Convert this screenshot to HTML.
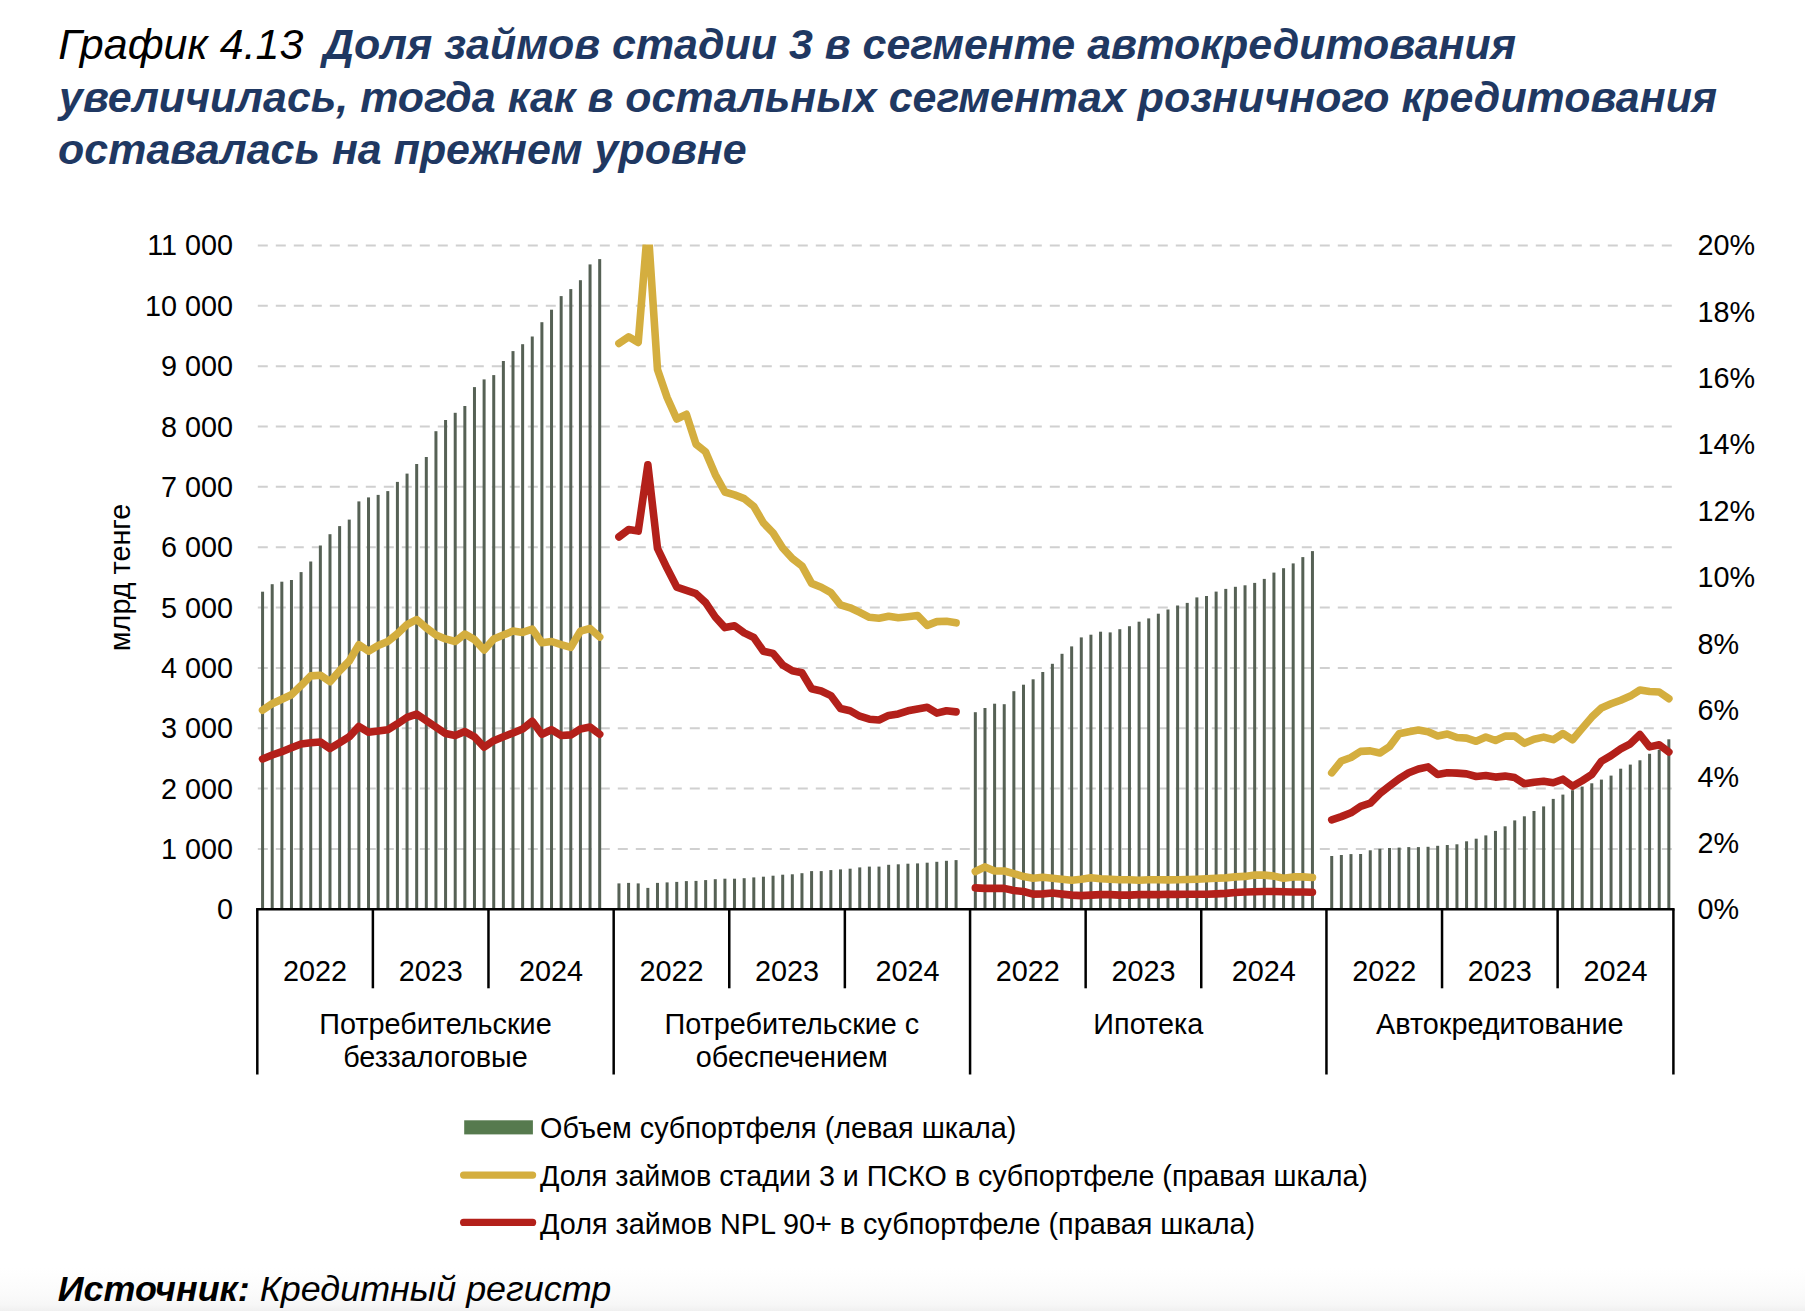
<!DOCTYPE html><html><head><meta charset="utf-8"><title>График 4.13</title><style>html,body{margin:0;padding:0;background:#fff}svg{display:block}</style></head><body>
<svg width="1805" height="1311" viewBox="0 0 1805 1311">
<defs><linearGradient id="bg" x1="0" y1="0" x2="0" y2="1"><stop offset="0" stop-color="#ffffff"/><stop offset="0.55" stop-color="#fbfbfb"/><stop offset="0.85" stop-color="#f7f7f7"/><stop offset="1" stop-color="#f0f0f0"/></linearGradient>
<clipPath id="pc"><rect x="252.3" y="244.6" width="1425.7" height="684.7"/></clipPath></defs>
<rect x="0" y="0" width="1805" height="1311" fill="#fff"/>
<rect x="0" y="1268" width="1805" height="43" fill="url(#bg)"/>
<text x="58.3" y="58.6" font-family="'Liberation Sans', Arial, sans-serif" font-size="43" font-style="italic" fill="#000">График 4.13</text>
<text font-family="'Liberation Sans', Arial, sans-serif" font-size="42.95" font-style="italic" font-weight="bold" fill="#1f3862">
<tspan x="323" y="58.6">Доля займов стадии 3 в сегменте автокредитования</tspan>
<tspan x="59" y="111.5">увеличилась, тогда как в остальных сегментах розничного кредитования</tspan>
<tspan x="58.1" y="164.3">оставалась на прежнем уровне</tspan></text>
<line x1="257.8" y1="848.95" x2="1673.0" y2="848.95" stroke="#d0d0d0" stroke-width="2" stroke-dasharray="10 8"/>
<line x1="257.8" y1="788.60" x2="1673.0" y2="788.60" stroke="#d0d0d0" stroke-width="2" stroke-dasharray="10 8"/>
<line x1="257.8" y1="728.25" x2="1673.0" y2="728.25" stroke="#d0d0d0" stroke-width="2" stroke-dasharray="10 8"/>
<line x1="257.8" y1="667.90" x2="1673.0" y2="667.90" stroke="#d0d0d0" stroke-width="2" stroke-dasharray="10 8"/>
<line x1="257.8" y1="607.55" x2="1673.0" y2="607.55" stroke="#d0d0d0" stroke-width="2" stroke-dasharray="10 8"/>
<line x1="257.8" y1="547.20" x2="1673.0" y2="547.20" stroke="#d0d0d0" stroke-width="2" stroke-dasharray="10 8"/>
<line x1="257.8" y1="486.85" x2="1673.0" y2="486.85" stroke="#d0d0d0" stroke-width="2" stroke-dasharray="10 8"/>
<line x1="257.8" y1="426.50" x2="1673.0" y2="426.50" stroke="#d0d0d0" stroke-width="2" stroke-dasharray="10 8"/>
<line x1="257.8" y1="366.15" x2="1673.0" y2="366.15" stroke="#d0d0d0" stroke-width="2" stroke-dasharray="10 8"/>
<line x1="257.8" y1="305.80" x2="1673.0" y2="305.80" stroke="#d0d0d0" stroke-width="2" stroke-dasharray="10 8"/>
<line x1="257.8" y1="245.45" x2="1673.0" y2="245.45" stroke="#d0d0d0" stroke-width="2" stroke-dasharray="10 8"/>
<g fill="#566155">
<rect x="261.07" y="591.7" width="3.0" height="317.6"/>
<rect x="270.70" y="584.2" width="3.0" height="325.1"/>
<rect x="280.33" y="581.7" width="3.0" height="327.6"/>
<rect x="289.96" y="580.0" width="3.0" height="329.3"/>
<rect x="299.59" y="572.1" width="3.0" height="337.2"/>
<rect x="309.23" y="561.5" width="3.0" height="347.8"/>
<rect x="318.86" y="545.5" width="3.0" height="363.8"/>
<rect x="328.49" y="534.2" width="3.0" height="375.1"/>
<rect x="338.12" y="526.1" width="3.0" height="383.2"/>
<rect x="347.75" y="519.6" width="3.0" height="389.7"/>
<rect x="357.39" y="501.4" width="3.0" height="407.9"/>
<rect x="367.02" y="497.4" width="3.0" height="411.9"/>
<rect x="376.65" y="494.9" width="3.0" height="414.4"/>
<rect x="386.28" y="491.1" width="3.0" height="418.2"/>
<rect x="395.91" y="481.9" width="3.0" height="427.4"/>
<rect x="405.55" y="473.6" width="3.0" height="435.7"/>
<rect x="415.18" y="464.0" width="3.0" height="445.3"/>
<rect x="424.81" y="457.0" width="3.0" height="452.3"/>
<rect x="434.44" y="431.2" width="3.0" height="478.1"/>
<rect x="444.07" y="420.0" width="3.0" height="489.3"/>
<rect x="453.71" y="412.8" width="3.0" height="496.5"/>
<rect x="463.34" y="406.0" width="3.0" height="503.3"/>
<rect x="472.97" y="387.1" width="3.0" height="522.2"/>
<rect x="482.60" y="379.4" width="3.0" height="529.9"/>
<rect x="492.23" y="375.1" width="3.0" height="534.2"/>
<rect x="501.87" y="361.0" width="3.0" height="548.3"/>
<rect x="511.50" y="351.1" width="3.0" height="558.2"/>
<rect x="521.13" y="344.2" width="3.0" height="565.1"/>
<rect x="530.76" y="336.5" width="3.0" height="572.8"/>
<rect x="540.39" y="322.2" width="3.0" height="587.1"/>
<rect x="550.03" y="309.7" width="3.0" height="599.6"/>
<rect x="559.66" y="296.1" width="3.0" height="613.2"/>
<rect x="569.29" y="289.1" width="3.0" height="620.2"/>
<rect x="578.92" y="280.2" width="3.0" height="629.1"/>
<rect x="588.55" y="264.4" width="3.0" height="644.9"/>
<rect x="598.19" y="259.1" width="3.0" height="650.2"/>
<rect x="617.45" y="883.4" width="3.0" height="25.9"/>
<rect x="627.08" y="882.9" width="3.0" height="26.4"/>
<rect x="636.71" y="883.4" width="3.0" height="25.9"/>
<rect x="646.35" y="887.9" width="3.0" height="21.4"/>
<rect x="655.98" y="882.9" width="3.0" height="26.4"/>
<rect x="665.61" y="882.4" width="3.0" height="26.9"/>
<rect x="675.24" y="881.9" width="3.0" height="27.4"/>
<rect x="684.87" y="881.1" width="3.0" height="28.2"/>
<rect x="694.51" y="880.9" width="3.0" height="28.4"/>
<rect x="704.14" y="880.1" width="3.0" height="29.2"/>
<rect x="713.77" y="879.2" width="3.0" height="30.1"/>
<rect x="723.40" y="878.7" width="3.0" height="30.6"/>
<rect x="733.03" y="878.7" width="3.0" height="30.6"/>
<rect x="742.67" y="878.2" width="3.0" height="31.1"/>
<rect x="752.30" y="877.4" width="3.0" height="31.9"/>
<rect x="761.93" y="876.7" width="3.0" height="32.6"/>
<rect x="771.56" y="875.7" width="3.0" height="33.6"/>
<rect x="781.19" y="874.7" width="3.0" height="34.6"/>
<rect x="790.83" y="874.3" width="3.0" height="35.0"/>
<rect x="800.46" y="873.2" width="3.0" height="36.1"/>
<rect x="810.09" y="871.1" width="3.0" height="38.2"/>
<rect x="819.72" y="871.1" width="3.0" height="38.2"/>
<rect x="829.35" y="870.1" width="3.0" height="39.2"/>
<rect x="838.99" y="869.4" width="3.0" height="39.9"/>
<rect x="848.62" y="868.7" width="3.0" height="40.6"/>
<rect x="858.25" y="867.4" width="3.0" height="41.9"/>
<rect x="867.88" y="866.6" width="3.0" height="42.7"/>
<rect x="877.51" y="866.6" width="3.0" height="42.7"/>
<rect x="887.15" y="864.8" width="3.0" height="44.5"/>
<rect x="896.78" y="864.3" width="3.0" height="45.0"/>
<rect x="906.41" y="863.7" width="3.0" height="45.6"/>
<rect x="916.04" y="863.4" width="3.0" height="45.9"/>
<rect x="925.67" y="862.7" width="3.0" height="46.6"/>
<rect x="935.31" y="861.8" width="3.0" height="47.5"/>
<rect x="944.94" y="860.8" width="3.0" height="48.5"/>
<rect x="954.57" y="860.1" width="3.0" height="49.2"/>
<rect x="973.83" y="712.2" width="3.0" height="197.1"/>
<rect x="983.47" y="708.0" width="3.0" height="201.3"/>
<rect x="993.10" y="703.7" width="3.0" height="205.6"/>
<rect x="1002.73" y="704.2" width="3.0" height="205.1"/>
<rect x="1012.36" y="691.2" width="3.0" height="218.1"/>
<rect x="1021.99" y="684.7" width="3.0" height="224.6"/>
<rect x="1031.63" y="679.3" width="3.0" height="230.0"/>
<rect x="1041.26" y="672.0" width="3.0" height="237.3"/>
<rect x="1050.89" y="663.8" width="3.0" height="245.5"/>
<rect x="1060.52" y="653.8" width="3.0" height="255.5"/>
<rect x="1070.15" y="646.4" width="3.0" height="262.9"/>
<rect x="1079.79" y="637.4" width="3.0" height="271.9"/>
<rect x="1089.42" y="634.7" width="3.0" height="274.6"/>
<rect x="1099.05" y="631.7" width="3.0" height="277.6"/>
<rect x="1108.68" y="632.4" width="3.0" height="276.9"/>
<rect x="1118.31" y="629.2" width="3.0" height="280.1"/>
<rect x="1127.95" y="626.2" width="3.0" height="283.1"/>
<rect x="1137.58" y="621.7" width="3.0" height="287.6"/>
<rect x="1147.21" y="618.4" width="3.0" height="290.9"/>
<rect x="1156.84" y="613.7" width="3.0" height="295.6"/>
<rect x="1166.47" y="609.5" width="3.0" height="299.8"/>
<rect x="1176.11" y="605.5" width="3.0" height="303.8"/>
<rect x="1185.74" y="602.9" width="3.0" height="306.4"/>
<rect x="1195.37" y="597.4" width="3.0" height="311.9"/>
<rect x="1205.00" y="596.0" width="3.0" height="313.3"/>
<rect x="1214.63" y="591.6" width="3.0" height="317.7"/>
<rect x="1224.27" y="588.9" width="3.0" height="320.4"/>
<rect x="1233.90" y="586.8" width="3.0" height="322.5"/>
<rect x="1243.53" y="585.3" width="3.0" height="324.0"/>
<rect x="1253.16" y="582.9" width="3.0" height="326.4"/>
<rect x="1262.79" y="578.9" width="3.0" height="330.4"/>
<rect x="1272.43" y="572.6" width="3.0" height="336.7"/>
<rect x="1282.06" y="568.2" width="3.0" height="341.1"/>
<rect x="1291.69" y="563.4" width="3.0" height="345.9"/>
<rect x="1301.32" y="557.1" width="3.0" height="352.2"/>
<rect x="1310.95" y="551.1" width="3.0" height="358.2"/>
<rect x="1330.22" y="856.0" width="3.0" height="53.3"/>
<rect x="1339.85" y="855.0" width="3.0" height="54.3"/>
<rect x="1349.48" y="854.1" width="3.0" height="55.2"/>
<rect x="1359.11" y="854.0" width="3.0" height="55.3"/>
<rect x="1368.75" y="850.3" width="3.0" height="59.0"/>
<rect x="1378.38" y="848.8" width="3.0" height="60.5"/>
<rect x="1388.01" y="848.0" width="3.0" height="61.3"/>
<rect x="1397.64" y="847.6" width="3.0" height="61.7"/>
<rect x="1407.27" y="847.1" width="3.0" height="62.2"/>
<rect x="1416.91" y="847.1" width="3.0" height="62.2"/>
<rect x="1426.54" y="846.8" width="3.0" height="62.5"/>
<rect x="1436.17" y="845.8" width="3.0" height="63.5"/>
<rect x="1445.80" y="845.0" width="3.0" height="64.3"/>
<rect x="1455.43" y="844.3" width="3.0" height="65.0"/>
<rect x="1465.07" y="841.3" width="3.0" height="68.0"/>
<rect x="1474.70" y="838.7" width="3.0" height="70.6"/>
<rect x="1484.33" y="835.4" width="3.0" height="73.9"/>
<rect x="1493.96" y="830.9" width="3.0" height="78.4"/>
<rect x="1503.59" y="826.3" width="3.0" height="83.0"/>
<rect x="1513.23" y="820.4" width="3.0" height="88.9"/>
<rect x="1522.86" y="816.3" width="3.0" height="93.0"/>
<rect x="1532.49" y="811.0" width="3.0" height="98.3"/>
<rect x="1542.12" y="806.4" width="3.0" height="102.9"/>
<rect x="1551.75" y="798.9" width="3.0" height="110.4"/>
<rect x="1561.39" y="794.6" width="3.0" height="114.7"/>
<rect x="1571.02" y="790.2" width="3.0" height="119.1"/>
<rect x="1580.65" y="786.6" width="3.0" height="122.7"/>
<rect x="1590.28" y="783.3" width="3.0" height="126.0"/>
<rect x="1599.91" y="779.6" width="3.0" height="129.7"/>
<rect x="1609.55" y="775.6" width="3.0" height="133.7"/>
<rect x="1619.18" y="768.7" width="3.0" height="140.6"/>
<rect x="1628.81" y="764.6" width="3.0" height="144.7"/>
<rect x="1638.44" y="760.3" width="3.0" height="149.0"/>
<rect x="1648.07" y="753.8" width="3.0" height="155.5"/>
<rect x="1657.71" y="749.7" width="3.0" height="159.6"/>
<rect x="1667.34" y="739.3" width="3.0" height="170.0"/>
</g>
<g clip-path="url(#pc)">
<polyline points="262.57,710.2 272.20,703.7 281.83,699.2 291.46,694.7 301.09,685.6 310.73,675.9 320.36,675.2 329.99,681.7 339.62,670.7 349.25,661.0 358.89,644.7 368.52,651.2 378.15,645.4 387.78,641.5 397.41,633.7 407.05,624.6 416.68,619.5 426.31,627.9 435.94,635.0 445.57,638.9 455.21,641.5 464.84,634.0 474.47,639.6 484.10,649.9 493.73,638.9 503.37,635.0 513.00,631.1 522.63,632.4 532.26,629.2 541.89,642.8 551.53,641.5 561.16,644.7 570.79,647.3 580.42,631.1 590.05,628.5 599.69,637.0" fill="none" stroke="#d4ae3f" stroke-width="7.6" stroke-linejoin="round" stroke-linecap="round"/>
<polyline points="618.95,343.4 628.58,336.8 638.21,342.4 647.85,225.0 657.48,369.5 667.11,397.5 676.74,419.0 686.37,414.3 696.01,444.2 705.64,451.9 715.27,474.6 724.90,492.0 734.53,494.9 744.17,498.6 753.80,506.4 763.43,522.9 773.06,532.9 782.69,548.0 792.33,558.5 801.96,565.9 811.59,583.4 821.22,587.2 830.85,592.6 840.49,604.8 850.12,607.8 859.75,612.4 869.38,617.3 879.01,618.2 888.65,616.2 898.28,617.7 907.91,616.7 917.54,615.5 927.17,625.4 936.81,621.6 946.44,621.3 956.07,622.8" fill="none" stroke="#d4ae3f" stroke-width="7.6" stroke-linejoin="round" stroke-linecap="round"/>
<polyline points="975.33,871.5 984.97,866.9 994.60,871.0 1004.23,871.0 1013.86,873.6 1023.49,876.6 1033.13,878.2 1042.76,877.2 1052.39,878.2 1062.02,879.2 1071.65,880.2 1081.29,879.2 1090.92,877.7 1100.55,878.7 1110.18,879.2 1119.81,879.7 1129.45,879.7 1139.08,880.2 1148.71,879.7 1158.34,879.7 1167.97,879.9 1177.61,879.7 1187.24,879.5 1196.87,879.2 1206.50,878.7 1216.13,878.2 1225.77,877.9 1235.40,876.9 1245.03,876.4 1254.66,875.1 1264.29,875.1 1273.93,876.1 1283.56,878.2 1293.19,876.9 1302.82,876.9 1312.45,877.5" fill="none" stroke="#d4ae3f" stroke-width="7.6" stroke-linejoin="round" stroke-linecap="round"/>
<polyline points="1331.72,772.8 1341.35,761.0 1350.98,757.5 1360.61,751.4 1370.25,750.9 1379.88,753.0 1389.51,746.6 1399.14,733.8 1408.77,731.7 1418.41,730.1 1428.04,731.7 1437.67,735.9 1447.30,734.0 1456.93,737.5 1466.57,738.1 1476.20,741.3 1485.83,737.0 1495.46,740.5 1505.09,736.1 1514.73,736.1 1524.36,743.3 1533.99,739.2 1543.62,737.1 1553.25,739.7 1562.89,733.5 1572.52,739.7 1582.15,728.4 1591.78,717.1 1601.41,707.9 1611.05,703.8 1620.68,700.2 1630.31,696.1 1639.94,690.0 1649.57,691.5 1659.21,692.0 1668.84,698.7" fill="none" stroke="#d4ae3f" stroke-width="7.6" stroke-linejoin="round" stroke-linecap="round"/>
<polyline points="262.57,758.9 272.20,755.0 281.83,751.7 291.46,747.8 301.09,744.0 310.73,742.7 320.36,742.0 329.99,748.5 339.62,742.7 349.25,736.8 358.89,726.4 368.52,732.3 378.15,731.0 387.78,729.7 397.41,723.8 407.05,717.4 416.68,714.1 426.31,720.6 435.94,727.1 445.57,733.6 455.21,735.5 464.84,731.6 474.47,736.8 484.10,747.2 493.73,740.7 503.37,736.8 513.00,732.9 522.63,729.0 532.26,721.3 541.89,734.2 551.53,729.7 561.16,735.5 570.79,734.9 580.42,729.0 590.05,727.1 599.69,734.2" fill="none" stroke="#b3201a" stroke-width="7.6" stroke-linejoin="round" stroke-linecap="round"/>
<polyline points="618.95,536.9 628.58,529.6 638.21,531.1 647.85,464.8 657.48,548.4 667.11,568.3 676.74,587.1 686.37,590.4 696.01,593.7 705.64,602.6 715.27,617.0 724.90,627.6 734.53,625.8 744.17,632.9 753.80,637.5 763.43,651.2 773.06,653.4 782.69,665.0 792.33,670.7 801.96,672.7 811.59,688.7 821.22,691.0 830.85,695.6 840.49,708.5 850.12,710.8 859.75,716.2 869.38,719.2 879.01,720.0 888.65,715.4 898.28,713.9 907.91,710.8 917.54,708.9 927.17,707.3 936.81,713.1 946.44,710.8 956.07,711.9" fill="none" stroke="#b3201a" stroke-width="7.6" stroke-linejoin="round" stroke-linecap="round"/>
<polyline points="975.33,887.9 984.97,888.4 994.60,888.4 1004.23,888.4 1013.86,890.5 1023.49,891.5 1033.13,894.1 1042.76,893.9 1052.39,893.0 1062.02,894.1 1071.65,895.1 1081.29,895.6 1090.92,895.1 1100.55,894.6 1110.18,894.6 1119.81,895.1 1129.45,895.1 1139.08,894.6 1148.71,894.6 1158.34,894.6 1167.97,894.3 1177.61,894.4 1187.24,894.3 1196.87,894.3 1206.50,894.3 1216.13,893.9 1225.77,893.4 1235.40,892.5 1245.03,892.0 1254.66,891.8 1264.29,891.5 1273.93,891.5 1283.56,891.8 1293.19,892.0 1302.82,892.0 1312.45,892.2" fill="none" stroke="#b3201a" stroke-width="7.6" stroke-linejoin="round" stroke-linecap="round"/>
<polyline points="1331.72,819.8 1341.35,816.6 1350.98,812.8 1360.61,806.4 1370.25,803.2 1379.88,793.6 1389.51,786.1 1399.14,778.7 1408.77,772.8 1418.41,769.0 1428.04,766.9 1437.67,774.4 1447.30,772.8 1456.93,773.1 1466.57,773.9 1476.20,776.5 1485.83,775.5 1495.46,777.1 1505.09,776.1 1514.73,777.6 1524.36,783.8 1533.99,782.2 1543.62,781.2 1553.25,782.7 1562.89,779.2 1572.52,786.3 1582.15,780.7 1591.78,774.5 1601.41,761.2 1611.05,755.6 1620.68,748.9 1630.31,743.8 1639.94,734.6 1649.57,746.9 1659.21,744.8 1668.84,752.0" fill="none" stroke="#b3201a" stroke-width="7.6" stroke-linejoin="round" stroke-linecap="round"/>
</g>
<g stroke="#000" stroke-width="2.5">
<line x1="256.1" y1="909.3" x2="1674.6" y2="909.3"/>
<line x1="257.30" y1="909.3" x2="257.30" y2="1074.5"/>
<line x1="372.88" y1="909.3" x2="372.88" y2="988.3"/>
<line x1="488.47" y1="909.3" x2="488.47" y2="988.3"/>
<line x1="613.68" y1="909.3" x2="613.68" y2="1074.5"/>
<line x1="729.27" y1="909.3" x2="729.27" y2="988.3"/>
<line x1="844.85" y1="909.3" x2="844.85" y2="988.3"/>
<line x1="970.07" y1="909.3" x2="970.07" y2="1074.5"/>
<line x1="1085.65" y1="909.3" x2="1085.65" y2="988.3"/>
<line x1="1201.24" y1="909.3" x2="1201.24" y2="988.3"/>
<line x1="1326.45" y1="909.3" x2="1326.45" y2="1074.5"/>
<line x1="1442.04" y1="909.3" x2="1442.04" y2="988.3"/>
<line x1="1557.62" y1="909.3" x2="1557.62" y2="988.3"/>
<line x1="1673.40" y1="909.3" x2="1673.40" y2="1074.5"/>
</g>
<g font-family="'Liberation Sans', Arial, sans-serif" font-size="28.8" fill="#000">
<text x="233.1" y="919.3" text-anchor="end">0</text>
<text x="233.1" y="858.9" text-anchor="end">1 000</text>
<text x="233.1" y="798.6" text-anchor="end">2 000</text>
<text x="233.1" y="738.2" text-anchor="end">3 000</text>
<text x="233.1" y="677.9" text-anchor="end">4 000</text>
<text x="233.1" y="617.5" text-anchor="end">5 000</text>
<text x="233.1" y="557.2" text-anchor="end">6 000</text>
<text x="233.1" y="496.8" text-anchor="end">7 000</text>
<text x="233.1" y="436.5" text-anchor="end">8 000</text>
<text x="233.1" y="376.1" text-anchor="end">9 000</text>
<text x="233.1" y="315.8" text-anchor="end">10 000</text>
<text x="233.1" y="255.4" text-anchor="end">11 000</text>
<text x="1697.4" y="919.3">0%</text>
<text x="1697.4" y="852.9">2%</text>
<text x="1697.4" y="786.5">4%</text>
<text x="1697.4" y="720.1">6%</text>
<text x="1697.4" y="653.7">8%</text>
<text x="1697.4" y="587.2">10%</text>
<text x="1697.4" y="520.8">12%</text>
<text x="1697.4" y="454.4">14%</text>
<text x="1697.4" y="388.0">16%</text>
<text x="1697.4" y="321.6">18%</text>
<text x="1697.4" y="255.2">20%</text>
<text transform="translate(129.6 577.5) rotate(-90)" text-anchor="middle">млрд тенге</text>
<text x="315.09" y="981" text-anchor="middle">2022</text>
<text x="430.68" y="981" text-anchor="middle">2023</text>
<text x="551.08" y="981" text-anchor="middle">2024</text>
<text x="671.48" y="981" text-anchor="middle">2022</text>
<text x="787.06" y="981" text-anchor="middle">2023</text>
<text x="907.46" y="981" text-anchor="middle">2024</text>
<text x="1027.86" y="981" text-anchor="middle">2022</text>
<text x="1143.44" y="981" text-anchor="middle">2023</text>
<text x="1263.84" y="981" text-anchor="middle">2024</text>
<text x="1384.24" y="981" text-anchor="middle">2022</text>
<text x="1499.83" y="981" text-anchor="middle">2023</text>
<text x="1615.41" y="981" text-anchor="middle">2024</text>
<text x="435.49" y="1033.7" text-anchor="middle">Потребительские</text>
<text x="435.49" y="1066.7" text-anchor="middle">беззалоговые</text>
<text x="791.88" y="1033.7" text-anchor="middle">Потребительские с</text>
<text x="791.88" y="1066.7" text-anchor="middle">обеспечением</text>
<text x="1148.26" y="1033.7" text-anchor="middle">Ипотека</text>
<text x="1499.83" y="1033.7" text-anchor="middle">Автокредитование</text>
<rect x="464.2" y="1120.3" width="68.7" height="14.1" fill="#567a4e"/>
<text x="540" y="1137.5">Объем субпортфеля (левая шкала)</text>
<line x1="463.6" y1="1175.1" x2="532.6" y2="1175.1" stroke="#d4ae3f" stroke-width="7.2" stroke-linecap="round"/>
<text x="540" y="1186" font-size="28.66">Доля займов стадии 3 и ПСКО в субпортфеле (правая шкала)</text>
<line x1="463.6" y1="1222.4" x2="532.6" y2="1222.4" stroke="#b3201a" stroke-width="7.2" stroke-linecap="round"/>
<text x="540" y="1234">Доля займов NPL 90+ в субпортфеле (правая шкала)</text>
</g>
<text x="57.7" y="1300.5" font-family="'Liberation Sans', Arial, sans-serif" font-size="35.9" font-style="italic" fill="#000"><tspan font-weight="bold">Источник:</tspan> Кредитный регистр</text>
</svg></body></html>
